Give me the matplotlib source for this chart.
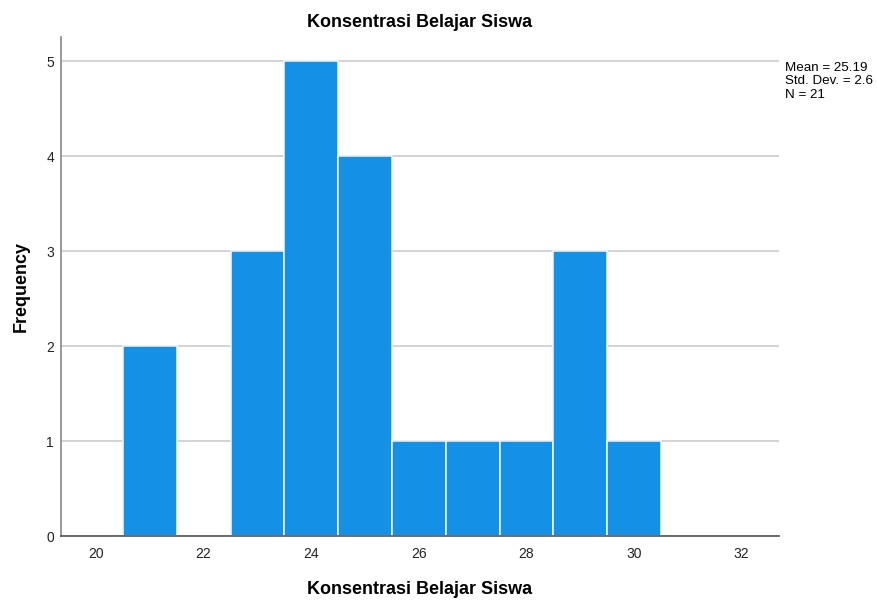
import matplotlib.pyplot as plt
import numpy as np

# histogram of "Konsentrasi Belajar Siswa" (SPSS output)
scores = [20, 21, 22, 23, 24, 25, 26, 27, 28, 29, 30, 31, 32]
counts = [0, 2, 0, 3, 5, 4, 1, 1, 1, 3, 1, 0, 0]
yticks = [0, 1, 2, 3, 4, 5]
xticks = [20, 22, 24, 26, 28, 30, 32]
stats_text = "Mean = 25.19\nStd. Dev. = 2.6\nN = 21"

BAR = "#1490E6"

plt.rcParams["font.family"] = ["Liberation Sans", "DejaVu Sans"]

fig = plt.figure(figsize=(8.78, 6.03), dpi=100, facecolor="white")
ax = fig.add_axes([0.0695, 0.111, 0.8175, 0.828])

x = np.array(scores)
h = np.array(counts)
keep = h > 0
ax.bar(x[keep], h[keep], width=1.0, color=BAR, edgecolor="#F2F8FD", linewidth=1.1, zorder=2)

ax.set_xlim(19.35, 32.69)
ax.set_ylim(0, 5.26)
ax.set_xticks(xticks)
ax.set_yticks(yticks)
ax.yaxis.grid(True, color="#CCCCCC", linewidth=1.2)
ax.set_axisbelow(True)
ax.tick_params(length=0, labelsize=10, colors="#222222")
ax.tick_params(axis="x", pad=8)
ax.tick_params(axis="y", pad=5)

for s in ["top", "right"]:
    ax.spines[s].set_visible(False)
ax.spines["left"].set_color("#888888")
ax.spines["bottom"].set_color("#555555")
ax.spines["left"].set_linewidth(1.2)
ax.spines["bottom"].set_linewidth(1.2)
ax.spines["bottom"].set_zorder(4)

ax.set_title("Konsentrasi Belajar Siswa", fontsize=13, fontweight="bold", pad=7)
ax.set_xlabel("Konsentrasi Belajar Siswa", fontsize=13, fontweight="bold", labelpad=14)
ax.set_ylabel("Frequency", fontsize=13, fontweight="bold", labelpad=12)

fig.text(0.894, 0.897, stats_text, ha="left", va="top", fontsize=9.6, linespacing=1.15)

fig.savefig("out.png", dpi=100, facecolor="white")
